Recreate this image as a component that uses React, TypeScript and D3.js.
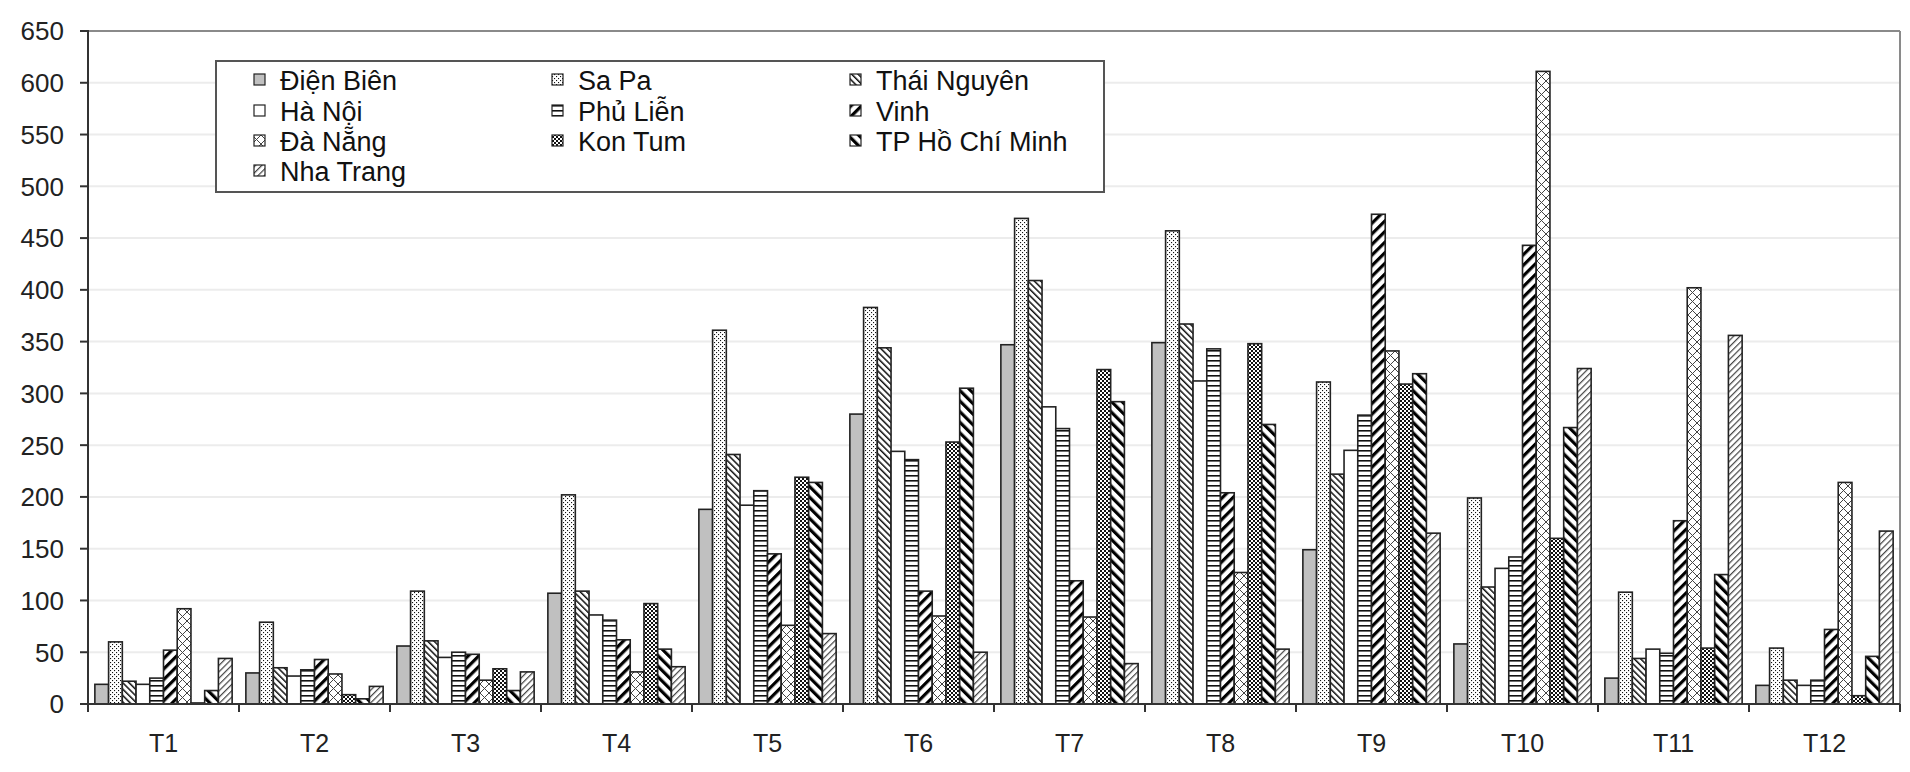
import React from "react";
import * as d3 from "d3";

const months = ["T1", "T2", "T3", "T4", "T5", "T6", "T7", "T8", "T9", "T10", "T11", "T12"];
const stations = ["Điện Biên", "Sa Pa", "Thái Nguyên", "Hà Nội", "Phủ Liễn", "Vinh", "Đà Nẵng", "Kon Tum", "TP Hồ Chí Minh", "Nha Trang"];

const dienBien = [19, 30, 56, 107, 188, 280, 347, 349, 149, 58, 25, 18];
const saPa = [60, 79, 109, 202, 361, 383, 469, 457, 311, 199, 108, 54];
const thaiNguyen = [22, 35, 61, 109, 241, 344, 409, 367, 222, 113, 44, 23];
const haNoi = [19, 27, 45, 86, 192, 244, 287, 312, 245, 131, 53, 18];
const phuLien = [25, 33, 50, 81, 206, 236, 266, 343, 279, 142, 49, 23];
const vinh = [52, 43, 48, 62, 145, 109, 119, 204, 473, 443, 177, 72];
const daNang = [92, 29, 23, 31, 76, 85, 84, 127, 341, 611, 402, 214];
const konTum = [1, 9, 34, 97, 219, 253, 323, 348, 309, 160, 54, 8];
const hcm = [13, 5, 13, 53, 214, 305, 292, 270, 319, 267, 125, 46];
const nhaTrang = [44, 17, 31, 36, 68, 50, 39, 53, 165, 324, 356, 167];

const seriesValues = [dienBien, saPa, thaiNguyen, haNoi, phuLien, vinh, daNang, konTum, hcm, nhaTrang];
const yTicks = [0, 50, 100, 150, 200, 250, 300, 350, 400, 450, 500, 550, 600, 650];

const fills = ["#c0c0c0", "url(#pDots)", "url(#pBack)", "#ffffff", "url(#pHoriz)", "url(#pVinh)", "url(#pCross)", "url(#pCheck)", "url(#pHcm)", "url(#pFwd)"];

const FONT = "'Liberation Sans', Arial, Helvetica, sans-serif";

export default function App() {
  const W = 1910, H = 772;
  const left = 88, right = 1900, top = 31, bottom = 704;

  const x0 = d3.scaleBand<string>().domain(months).range([left, right]).padding(0);
  const x1 = d3.scaleBand<number>().domain(d3.range(stations.length)).range([0, x0.bandwidth()]).paddingInner(0).paddingOuter(0.5);
  const y = d3.scaleLinear().domain([0, 650]).range([bottom, top]);

  const boundaries = months.map((m) => x0(m) as number).concat([right]);

  const legendCols = [254, 552, 850];
  const legendRows = [80, 111, 141, 171];

  return (
    <svg width={W} height={H} style={{ position: "absolute", left: 0, top: 0, background: "#fff" }} fontFamily={FONT}>
      <defs>
        <pattern id="pDots" patternUnits="userSpaceOnUse" width="4" height="4">
          <rect width="4" height="4" fill="#fff" />
          <rect x="0" y="0" width="1.1" height="1.1" fill="#111" />
          <rect x="2" y="2" width="1.1" height="1.1" fill="#111" />
        </pattern>
        <pattern id="pBack" patternUnits="userSpaceOnUse" width="4.5" height="4.5" patternTransform="rotate(-45)">
          <rect width="4.5" height="4.5" fill="#fff" />
          <rect x="0" y="0" width="1.5" height="4.5" fill="#111" />
        </pattern>
        <pattern id="pFwd" patternUnits="userSpaceOnUse" width="4.5" height="4.5" patternTransform="rotate(45)">
          <rect width="4.5" height="4.5" fill="#fff" />
          <rect x="0" y="0" width="1.2" height="4.5" fill="#444" />
        </pattern>
        <pattern id="pHoriz" patternUnits="userSpaceOnUse" width="6" height="5">
          <rect width="6" height="5" fill="#fff" />
          <rect x="0" y="0" width="6" height="1.6" fill="#111" />
        </pattern>
        <pattern id="pVinh" patternUnits="userSpaceOnUse" width="7.5" height="7.5" patternTransform="rotate(45)">
          <rect width="7.5" height="7.5" fill="#fff" />
          <rect x="0" y="0" width="3.2" height="7.5" fill="#000" />
        </pattern>
        <pattern id="pHcm" patternUnits="userSpaceOnUse" width="7.5" height="7.5" patternTransform="rotate(-45)">
          <rect width="7.5" height="7.5" fill="#fff" />
          <rect x="0" y="0" width="3.2" height="7.5" fill="#000" />
        </pattern>
        <pattern id="pCross" patternUnits="userSpaceOnUse" width="9" height="9">
          <rect width="9" height="9" fill="#fff" />
          <path d="M0,0L9,9M9,0L0,9" stroke="#444" strokeWidth="1" />
        </pattern>
        <pattern id="pCheck" patternUnits="userSpaceOnUse" width="4" height="4">
          <rect width="4" height="4" fill="#fff" />
          <rect x="0" y="0" width="2" height="2" fill="#111" />
          <rect x="2" y="2" width="2" height="2" fill="#111" />
        </pattern>
      </defs>

      {/* gridlines */}
      {yTicks.map((t) => (
        <line key={"g" + t} x1={left} x2={right} y1={y(t)} y2={y(t)} stroke="#ececec" strokeWidth={2} />
      ))}
      {/* plot border top/right */}
      <line x1={left} x2={right} y1={y(650)} y2={y(650)} stroke="#8a8a8a" strokeWidth={2} />
      <line x1={right} x2={right} y1={y(650)} y2={y(0)} stroke="#8a8a8a" strokeWidth={2} />

      {/* bars */}
      {months.map((m, mi) => (
        <g key={m} transform={`translate(${x0(m)},0)`}>
          {seriesValues.map((vals, si) => (
            <rect
              key={si}
              x={x1(si)}
              y={y(vals[mi])}
              width={x1.bandwidth()}
              height={y(0) - y(vals[mi])}
              fill={fills[si]}
              stroke="#222"
              strokeWidth={1.6}
            />
          ))}
        </g>
      ))}

      {/* axes */}
      <line x1={left} x2={left} y1={y(650) - 1} y2={y(0) + 8} stroke="#333" strokeWidth={2} />
      <line x1={left - 8} x2={right} y1={y(0)} y2={y(0)} stroke="#333" strokeWidth={2} />
      {yTicks.map((t) => (
        <g key={"yt" + t}>
          <line x1={left - 8} x2={left} y1={y(t)} y2={y(t)} stroke="#333" strokeWidth={2} />
          <text x={64} y={y(t)} dy="0.36em" textAnchor="end" fontSize={26} fill="#222">
            {t}
          </text>
        </g>
      ))}
      {boundaries.map((b, i) => (
        <line key={"xt" + i} x1={b} x2={b} y1={y(0)} y2={y(0) + 8} stroke="#333" strokeWidth={2} />
      ))}
      {months.map((m) => (
        <text key={"xl" + m} x={(x0(m) as number) + x0.bandwidth() / 2} y={752} textAnchor="middle" fontSize={25} fill="#222">
          {m}
        </text>
      ))}

      {/* legend */}
      <rect x={216} y={61} width={888} height={131} fill="#fff" stroke="#555" strokeWidth={2} />
      {stations.map((s, i) => {
        const col = i % 3;
        const row = Math.floor(i / 3);
        const lx = legendCols[col];
        const ly = legendRows[row];
        return (
          <g key={s}>
            <rect x={lx} y={ly - 6} width={11} height={11} fill={fills[i]} stroke="#222" strokeWidth={1.2} />
            <text x={lx + 26} y={ly} dy="0.36em" fontSize={27} fill="#111">
              {s}
            </text>
          </g>
        );
      })}
    </svg>
  );
}
